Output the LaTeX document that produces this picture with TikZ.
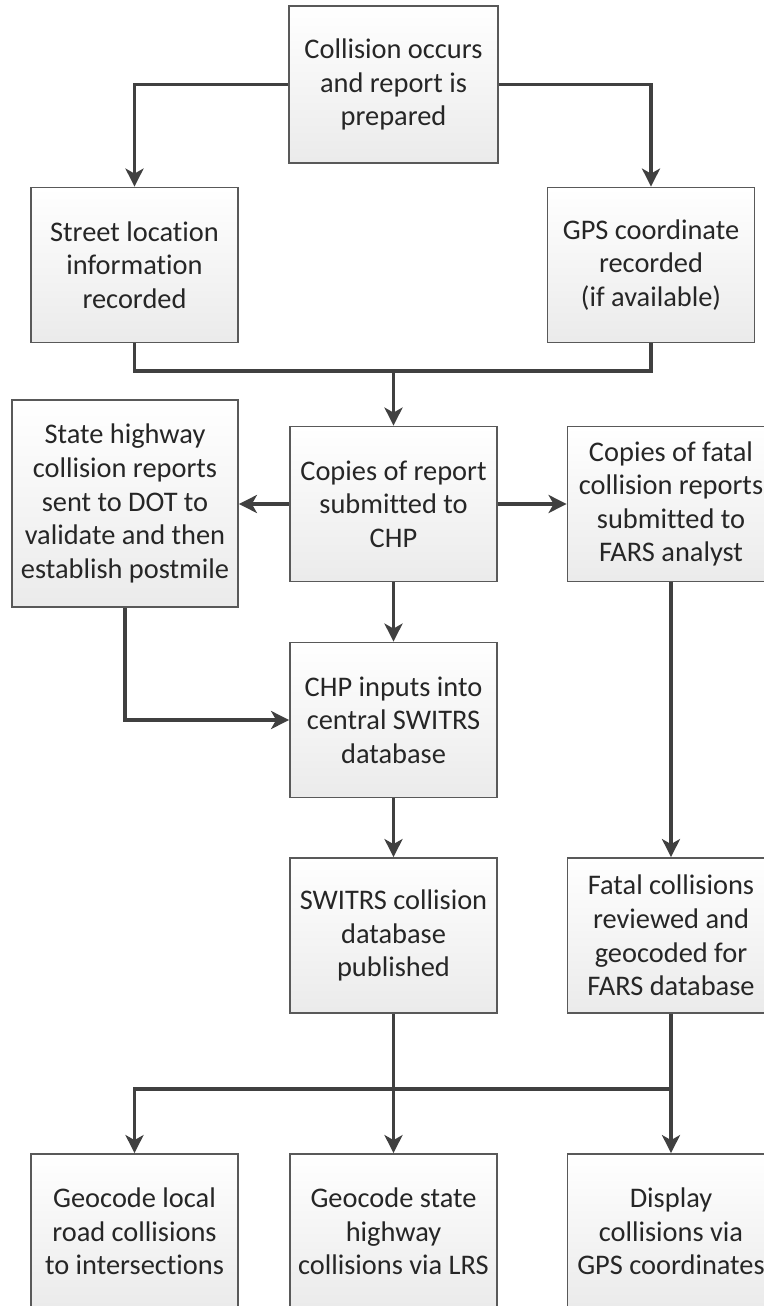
\documentclass[tikz,border=0pt]{standalone}
\usepackage{fontspec}
\setmainfont{Carlito}[Ligatures=NoCommon]
\usetikzlibrary{arrows.meta}

\begin{document}
\begin{tikzpicture}[x=0.5pt, y=-0.5pt,
    box/.style={draw=black!65, line width=0.9pt, top color=white, bottom color=black!8,
      minimum width=103.5pt, minimum height=77.5pt, align=center, text=black!85,
      inner sep=1pt, font=\fontsize{14.2}{16.8}\selectfont},
    link/.style={draw=black!75, line width=1.8pt},
    arr/.style={link, -{Stealth[length=9pt, width=9pt, inset=2.5pt]}}]
    \useasboundingbox (0,0) rectangle (764,1306);

    % boxes
    \node[box, minimum width=104.5pt, minimum height=78.5pt] (occur) at (393.5,84.5) {Collision occurs\\and report is\\prepared};
    \node[box] (street) at (134.5,265) {Street location\\information\\recorded};
    \node[box] (gps) at (651,265) {GPS coordinate\\recorded\\(if available)};
    \node[box] (copies) at (393.5,504) {Copies of report\\submitted to\\CHP};
    \node[box, minimum width=113pt, minimum height=103.5pt] (state) at (125,503.5) {State highway\\collision reports\\sent to DOT to\\validate and then\\establish postmile};
    \node[box] (fars) at (671,504) {Copies of fatal\\collision reports\\submitted to\\FARS analyst};
    \node[box] (inputs) at (393.5,720) {CHP inputs into\\central SWITRS\\database};
    \node[box] (switrs) at (393.5,935.5) {SWITRS collision\\database\\published};
    \node[box] (fatal) at (671,935.5) {Fatal collisions\\reviewed and\\geocoded for\\FARS database};
    \node[box] (local) at (134.5,1231.5) {Geocode local\\road collisions\\to intersections};
    \node[box] (lrs) at (393.5,1231.5) {Geocode state\\highway\\collisions via LRS};
    \node[box] (gpsshow) at (671,1231.5) {Display\\collisions via\\GPS coordinates};

    % connectors
    \coordinate (merge) at (393.5,371);
    \coordinate (split) at (393.5,1089);
    \draw[arr] (occur.west) -| (street.north);
    \draw[arr] (occur.east) -| (gps.north);
    \draw[link] (street.south) |- (merge) -| (gps.south);
    \draw[arr] (merge) -- (copies.north);
    \draw[arr] (copies.west) -- (copies.west -| state.east);
    \draw[arr] (copies.east) -- (fars.west);
    \draw[arr] (copies) -- (inputs);
    \draw[arr] (state.south) |- (inputs.west);
    \draw[arr] (inputs) -- (switrs);
    \draw[arr] (fars) -- (fatal);
    \draw[link] (switrs.south) -- (split);
    \draw[arr] (split) -- (lrs.north);
    \draw[arr] (fatal.south) -- (fatal.south |- split) -- (gpsshow.north);
    \draw[arr] (fatal.south |- split) -| (local.north);
\end{tikzpicture}
\end{document}
